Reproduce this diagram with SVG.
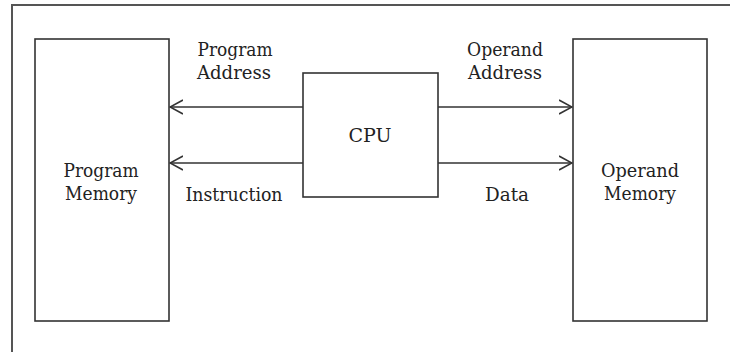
<svg xmlns="http://www.w3.org/2000/svg" width="730" height="352" viewBox="0 0 730 352">
<style>
.box{fill:#fff;stroke:#333;stroke-width:1.6}
.frame{fill:none;stroke:#555;stroke-width:2}
.lbl{font-family:'DejaVu Serif','Liberation Serif',serif;font-size:18px;fill:#222}
.wire{stroke:#333;stroke-width:1.6;fill:none}
</style>
<defs>
<marker id="ah" viewBox="0 0 14 16" refX="13" refY="8" markerWidth="14" markerHeight="16" markerUnits="userSpaceOnUse" orient="auto">
<path d="M0,1 L13,8 L0,15" fill="none" stroke="#333" stroke-width="1.6"/>
</marker>
</defs>
<rect width="730" height="352" fill="#fff"/>
<path class="frame" d="M12,352 V5 H730"/>
<g id="program-memory">
<rect class="box" x="35" y="39" width="134" height="282"/>
<text class="lbl" x="101" y="177" text-anchor="middle" textLength="75" lengthAdjust="spacingAndGlyphs">Program</text>
<text class="lbl" x="101" y="200" text-anchor="middle" textLength="72" lengthAdjust="spacingAndGlyphs">Memory</text>
</g>
<g id="cpu">
<rect class="box" x="303" y="73" width="135" height="124"/>
<text class="lbl" x="370" y="142" text-anchor="middle" textLength="43" lengthAdjust="spacingAndGlyphs">CPU</text>
</g>
<g id="operand-memory">
<rect class="box" x="573" y="39" width="134" height="282"/>
<text class="lbl" x="640" y="177" text-anchor="middle" textLength="78" lengthAdjust="spacingAndGlyphs">Operand</text>
<text class="lbl" x="640" y="200" text-anchor="middle" textLength="72" lengthAdjust="spacingAndGlyphs">Memory</text>
</g>
<g id="connectors">
<line class="wire" x1="303" y1="107" x2="170" y2="107" marker-end="url(#ah)"/>
<line class="wire" x1="303" y1="163" x2="170" y2="163" marker-end="url(#ah)"/>
<line class="wire" x1="438" y1="107" x2="572" y2="107" marker-end="url(#ah)"/>
<line class="wire" x1="438" y1="163" x2="572" y2="163" marker-end="url(#ah)"/>
<text class="lbl" x="235" y="56" text-anchor="middle" textLength="75" lengthAdjust="spacingAndGlyphs">Program</text>
<text class="lbl" x="234" y="79" text-anchor="middle" textLength="74" lengthAdjust="spacingAndGlyphs">Address</text>
<text class="lbl" x="505" y="56" text-anchor="middle" textLength="76" lengthAdjust="spacingAndGlyphs">Operand</text>
<text class="lbl" x="505" y="79" text-anchor="middle" textLength="74" lengthAdjust="spacingAndGlyphs">Address</text>
<text class="lbl" x="234" y="201" text-anchor="middle" textLength="97" lengthAdjust="spacingAndGlyphs">Instruction</text>
<text class="lbl" x="507" y="201" text-anchor="middle" textLength="44" lengthAdjust="spacingAndGlyphs">Data</text>
</g>
</svg>
